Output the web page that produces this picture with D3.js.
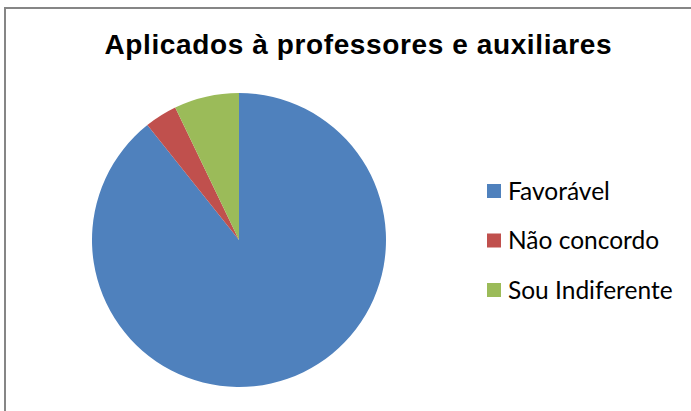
<!DOCTYPE html>
<html>
<head>
<meta charset="utf-8">
<script src="https://cdn.jsdelivr.net/npm/d3@7"></script>
<style>
  html, body { margin: 0; padding: 0; background: #fff; }
  svg { display: block; }
</style>
</head>
<body>
<script>
// Respostas (contagens)
const categories = ["Favorável", "Não concordo", "Sou Indiferente"];
const values = [25, 1, 2];
const colors = ["#4F81BD", "#C0504D", "#9BBB59"];
const title = "Aplicados à professores e auxiliares";

const W = 691, H = 411;
const svg = d3.select("body").append("svg").attr("width", W).attr("height", H);

// Chart frame (extends beyond right/bottom edges)
svg.append("rect")
  .attr("x", 5).attr("y", 8)
  .attr("width", W + 20).attr("height", H + 20)
  .attr("fill", "#fff")
  .attr("stroke", "#868686")
  .attr("stroke-width", 2);

svg.append("text")
  .attr("x", 358).attr("y", 53.5)
  .attr("text-anchor", "middle")
  .attr("textLength", 507)
  .attr("lengthAdjust", "spacing")
  .style("font-family", "'Liberation Sans', Arial, sans-serif")
  .style("font-weight", "bold")
  .style("font-size", "28px")
  .attr("fill", "#000")
  .text(title);

const cx = 239, cy = 240, r = 147;
const data = categories.map((c, i) => ({ name: c, value: values[i], color: colors[i] }));

const pie = d3.pie().value(d => d.value).sort(null);
const arc = d3.arc().innerRadius(0).outerRadius(r);

svg.append("g")
  .attr("transform", `translate(${cx},${cy})`)
  .selectAll("path")
  .data(pie(data))
  .join("path")
  .attr("d", arc)
  .attr("fill", d => d.data.color);

const legend = svg.append("g").attr("transform", "translate(487,191)");
const row = legend.selectAll("g").data(data).join("g")
  .attr("transform", (d, i) => `translate(0,${i * 49.5})`);
row.append("rect")
  .attr("x", 0).attr("y", -7)
  .attr("width", 14).attr("height", 14)
  .attr("fill", d => d.color);
row.append("text")
  .attr("x", 21).attr("y", 0)
  .attr("dy", "0.36em")
  .style("font-family", "Lato, 'Open Sans', sans-serif")
  .style("font-size", "24.5px")
  .attr("fill", "#000")
  .text(d => d.name);
</script>
</body>
</html>
